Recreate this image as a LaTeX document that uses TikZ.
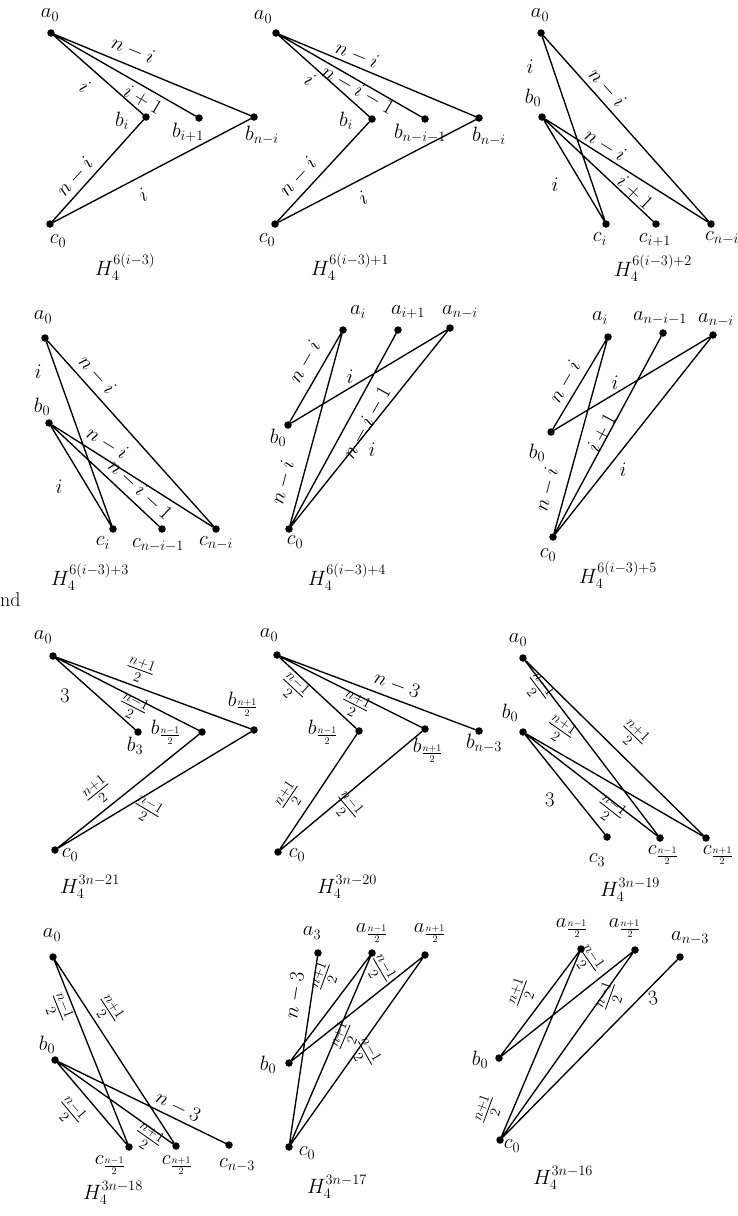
\documentclass[tikz,border=0pt]{standalone}
\usepackage{amsmath}
\begin{document}
\begin{tikzpicture}[x=1pt,y=-1pt,
 vtx/.style={circle,fill=black,inner sep=0pt,minimum size=7.5pt},
 lbl/.style={inner sep=0pt,font=\fontsize{20}{22}\selectfont},
 elb/.style={inner sep=0pt,font=\fontsize{20}{22}\selectfont},
 ttl/.style={inner sep=0pt,font=\fontsize{20}{22}\selectfont},
 con/.style={line width=1.35pt,line cap=round}]
\useasboundingbox (0,0) rectangle (737,1216);
% ---------- Panel 1
\node[vtx] (p1a) at (51,33) {};
\node[vtx] (p1bi) at (146,117) {};
\node[vtx] (p1bj) at (199,118) {};
\node[vtx] (p1bk) at (254,117) {};
\node[vtx] (p1c) at (50,224) {};
\draw[con] (p1a)--(p1bi) (p1a)--(p1bj) (p1a)--(p1bk) (p1c)--(p1bi) (p1c)--(p1bk);
\node[lbl] (p1la) at (50,15) {$a_0$};
\node[lbl] (p1lbi) at (122,121) {$b_i$};
\node[lbl] (p1lbj) at (188,132) {$b_{i+1}$};
\node[lbl] (p1lbk) at (262,135) {$b_{n-i}$};
\node[lbl] (p1lc) at (58,241) {$c_0$};
\node[elb,rotate=-22] (p1e1) at (133,50) {$n-i$};
\node[elb,rotate=-42] (p1e2) at (85,87) {$i$};
\node[elb,rotate=-30] (p1e3) at (143,100) {$i+1$};
\node[elb,rotate=48] (p1e4) at (75,177) {$n-i$};
\node[elb,rotate=28] (p1e5) at (143,195) {$i$};
\node[ttl] (p1t) at (125,267) {$H_4^{6(i-3)}$};
% ---------- Panel 2
\node[vtx] (p2a) at (276,33) {};
\node[vtx] (p2bi) at (372,119) {};
\node[vtx] (p2bj) at (425,119) {};
\node[vtx] (p2bk) at (479,118) {};
\node[vtx] (p2c) at (275,224) {};
\draw[con] (p2a)--(p2bi) (p2a)--(p2bj) (p2a)--(p2bk) (p2c)--(p2bi) (p2c)--(p2bk);
\node[lbl] (p2la) at (263,17) {$a_0$};
\node[lbl] (p2lbi) at (346,121) {$b_i$};
\node[lbl] (p2lbj) at (420,133) {$b_{n-i-1}$};
\node[lbl] (p2lbk) at (489,136) {$b_{n-i}$};
\node[lbl] (p2lc) at (267,240) {$c_0$};
\node[elb,rotate=-22] (p2e1) at (357,55) {$n-i$};
\node[elb,rotate=-42] (p2e2) at (310,80) {$i$};
\node[elb,rotate=-30] (p2e3) at (358,90) {$n-i-1$};
\node[elb,rotate=47] (p2e4) at (298,177) {$n-i$};
\node[elb,rotate=28] (p2e5) at (363,198) {$i$};
\node[ttl] (p2t) at (350,267) {$H_4^{6(i-3)+1}$};
% ---------- Panel 3
\node[vtx] (p3a) at (541,33) {};
\node[vtx] (p3b) at (542,117) {};
\node[vtx] (p3ci) at (606,224) {};
\node[vtx] (p3cj) at (656,224) {};
\node[vtx] (p3ck) at (711,224) {};
\draw[con] (p3a)--(p3ci) (p3a)--(p3ck) (p3b)--(p3ci) (p3b)--(p3cj) (p3b)--(p3ck);
\node[lbl] (p3la) at (540,15) {$a_0$};
\node[lbl] (p3lb) at (533,98) {$b_0$};
\node[lbl] (p3lci) at (600,239) {$c_i$};
\node[lbl] (p3lcj) at (655,240) {$c_{i+1}$};
\node[lbl] (p3lck) at (722,238) {$c_{n-i}$};
\node[elb] (p3e1) at (530,67) {$i$};
\node[elb,rotate=-48] (p3e2) at (607,88) {$n-i$};
\node[elb,rotate=-32] (p3e3) at (605,145) {$n-i$};
\node[elb,rotate=-43] (p3e4) at (635,193) {$i+1$};
\node[elb] (p3e5) at (555,185) {$i$};
\node[ttl] (p3t) at (653,268) {$H_4^{6(i-3)+2}$};
% ---------- Panel 4
\node[vtx] (p4a) at (45,338) {};
\node[vtx] (p4b) at (49,423) {};
\node[vtx] (p4ci) at (113,529) {};
\node[vtx] (p4cj) at (162,529) {};
\node[vtx] (p4ck) at (216,529) {};
\draw[con] (p4a)--(p4ci) (p4a)--(p4ck) (p4b)--(p4ci) (p4b)--(p4cj) (p4b)--(p4ck);
\node[lbl] (p4la) at (43,317) {$a_0$};
\node[lbl] (p4lb) at (42,407) {$b_0$};
\node[lbl] (p4lci) at (103,543) {$c_i$};
\node[lbl] (p4lcj) at (158,545) {$c_{n-i-1}$};
\node[lbl] (p4lck) at (216,543) {$c_{n-i}$};
\node[elb] (p4e1) at (38,372) {$i$};
\node[elb,rotate=-48] (p4e2) at (97,375) {$n-i$};
\node[elb,rotate=-32] (p4e3) at (107,443) {$n-i$};
\node[elb,rotate=-43] (p4e4) at (140,490) {$n-i-1$};
\node[elb] (p4e5) at (59,487) {$i$};
\node[ttl] (p4t) at (90,577) {$H_4^{6(i-3)+3}$};
% ---------- Panel 5
\node[vtx] (p5ai) at (343,330) {};
\node[vtx] (p5aj) at (398,330) {};
\node[vtx] (p5ak) at (450,328) {};
\node[vtx] (p5b) at (288,425) {};
\node[vtx] (p5c) at (289,529) {};
\draw[con] (p5b)--(p5ai) (p5b)--(p5ak) (p5c)--(p5ai) (p5c)--(p5aj) (p5c)--(p5ak);
\node[lbl] (p5lai) at (358,312) {$a_i$};
\node[lbl] (p5laj) at (408,312) {$a_{i+1}$};
\node[lbl] (p5lak) at (460,312) {$a_{n-i}$};
\node[lbl] (p5lb) at (278,438) {$b_0$};
\node[lbl] (p5lc) at (295,542) {$c_0$};
\node[elb,rotate=60] (p5e1) at (305,362) {$n-i$};
\node[elb] (p5e2) at (350,377) {$i$};
\node[elb,rotate=61] (p5e3) at (367,423) {$n-i-1$};
\node[elb] (p5e4) at (372,450) {$i$};
\node[elb,rotate=75] (p5e5) at (283,483) {$n-i$};
\node[ttl] (p5t) at (347,577) {$H_4^{6(i-3)+4}$};
% ---------- Panel 6
\node[vtx] (p6ai) at (608,337) {};
\node[vtx] (p6aj) at (663,333) {};
\node[vtx] (p6ak) at (713,335) {};
\node[vtx] (p6b) at (551,432) {};
\node[vtx] (p6c) at (553,537) {};
\draw[con] (p6b)--(p6ai) (p6b)--(p6ak) (p6c)--(p6ai) (p6c)--(p6aj) (p6c)--(p6ak);
\node[lbl] (p6lai) at (600,318) {$a_i$};
\node[lbl] (p6laj) at (660,318) {$a_{n-i-1}$};
\node[lbl] (p6lak) at (716,320) {$a_{n-i}$};
\node[lbl] (p6lb) at (537,453) {$b_0$};
\node[lbl] (p6lc) at (548,555) {$c_0$};
\node[elb,rotate=60] (p6e1) at (565,382) {$n-i$};
\node[elb] (p6e2) at (615,383) {$i$};
\node[elb,rotate=62] (p6e3) at (602,433) {$i+1$};
\node[elb] (p6e4) at (623,470) {$i$};
\node[elb,rotate=75] (p6e5) at (547,490) {$n-i$};
\node[ttl] (p6t) at (618,575) {$H_4^{6(i-3)+5}$};
% stray text
\node[lbl,anchor=west] (nd) at (0,600) {nd};
% ---------- Panel 7
\node[vtx] (p7a) at (53,656) {};
\node[vtx] (p7b3) at (138,732) {};
\node[vtx] (p7bm) at (202,732) {};
\node[vtx] (p7bp) at (254,730) {};
\node[vtx] (p7c) at (55,850) {};
\draw[con] (p7a)--(p7b3) (p7a)--(p7bm) (p7a)--(p7bp) (p7c)--(p7bm) (p7c)--(p7bp);
\node[lbl] (p7la) at (43,637) {$a_0$};
\node[lbl] (p7lb3) at (135,746) {$b_3$};
\node[lbl] (p7lbm) at (166,732) {$b_{\frac{n-1}{2}}$};
\node[lbl] (p7lbp) at (243,704) {$b_{\frac{n+1}{2}}$};
\node[lbl] (p7lc) at (70,855) {$c_0$};
\node[elb] (p7e1) at (65,696) {$3$};
\node[elb,rotate=-20] (p7e2) at (140,670) {$\frac{n+1}{2}$};
\node[elb,rotate=-27] (p7e3) at (133,707) {$\frac{n-1}{2}$};
\node[elb,rotate=39] (p7e4) at (98,792) {$\frac{n+1}{2}$};
\node[elb,rotate=-31] (p7e5) at (147,810) {$\frac{n-1}{2}$};
\node[ttl] (p7t) at (90,887) {$H_4^{3n-21}$};
% ---------- Panel 8
\node[vtx] (p8a) at (277,655) {};
\node[vtx] (p8bm) at (359,731) {};
\node[vtx] (p8bp) at (425,729) {};
\node[vtx] (p8bk) at (479,731) {};
\node[vtx] (p8c) at (278,852) {};
\draw[con] (p8a)--(p8bm) (p8a)--(p8bp) (p8a)--(p8bk) (p8c)--(p8bm) (p8c)--(p8bp);
\node[lbl] (p8la) at (269,635) {$a_0$};
\node[lbl] (p8lbm) at (323,732) {$b_{\frac{n-1}{2}}$};
\node[lbl] (p8lbp) at (428,750) {$b_{\frac{n+1}{2}}$};
\node[lbl] (p8lbk) at (484,743) {$b_{n-3}$};
\node[lbl] (p8lc) at (297,855) {$c_0$};
\node[elb,rotate=-20] (p8e1) at (397,685) {$n-3$};
\node[elb,rotate=-43] (p8e2) at (293,688) {$\frac{n-1}{2}$};
\node[elb,rotate=-27] (p8e3) at (355,705) {$\frac{n+1}{2}$};
\node[elb,rotate=56] (p8e4) at (290,797) {$\frac{n+1}{2}$};
\node[elb,rotate=-50] (p8e5) at (347,807) {$\frac{n-1}{2}$};
\node[ttl] (p8t) at (347,887) {$H_4^{3n-20}$};
% ---------- Panel 9
\node[vtx] (p9a) at (523,658) {};
\node[vtx] (p9b) at (523,732) {};
\node[vtx] (p9c3) at (607,837) {};
\node[vtx] (p9cm) at (660,838) {};
\node[vtx] (p9cp) at (706,838) {};
\draw[con] (p9a)--(p9cm) (p9a)--(p9cp) (p9b)--(p9c3) (p9b)--(p9cm) (p9b)--(p9cp);
\node[lbl] (p9la) at (518,640) {$a_0$};
\node[lbl] (p9lb) at (510,713) {$b_0$};
\node[lbl] (p9lc3) at (597,860) {$c_3$};
\node[lbl] (p9lcm) at (663,855) {$c_{\frac{n-1}{2}}$};
\node[lbl] (p9lcp) at (718,855) {$c_{\frac{n+1}{2}}$};
\node[elb,rotate=-53] (p9e1) at (538,688) {$\frac{n-1}{2}$};
\node[elb,rotate=-35] (p9e2) at (560,730) {$\frac{n+1}{2}$};
\node[elb,rotate=-44] (p9e3) at (633,735) {$\frac{n+1}{2}$};
\node[elb] (p9e4) at (550,800) {$3$};
\node[elb,rotate=-38] (p9e5) at (610,810) {$\frac{n-1}{2}$};
\node[ttl] (p9t) at (630,890) {$H_4^{3n-19}$};
% ---------- Panel 10
\node[vtx] (p10a) at (53,957) {};
\node[vtx] (p10b) at (55,1060) {};
\node[vtx] (p10cm) at (129,1147) {};
\node[vtx] (p10cp) at (176,1146) {};
\node[vtx] (p10ck) at (229,1145) {};
\draw[con] (p10a)--(p10cm) (p10a)--(p10cp) (p10b)--(p10cm) (p10b)--(p10cp) (p10b)--(p10ck);
\node[lbl] (p10la) at (52,935) {$a_0$};
\node[lbl] (p10lb) at (47,1045) {$b_0$};
\node[lbl] (p10lcm) at (110,1165) {$c_{\frac{n-1}{2}}$};
\node[lbl] (p10lcp) at (177,1165) {$c_{\frac{n+1}{2}}$};
\node[lbl] (p10lck) at (237,1165) {$c_{n-3}$};
\node[elb,rotate=-68] (p10e1) at (58,1008) {$\frac{n-1}{2}$};
\node[elb,rotate=-57] (p10e2) at (108,1010) {$\frac{n+1}{2}$};
\node[elb,rotate=-26] (p10e3) at (178,1107) {$n-3$};
\node[elb,rotate=-50] (p10e4) at (70,1112) {$\frac{n-1}{2}$};
\node[elb,rotate=-35] (p10e5) at (148,1138) {$\frac{n+1}{2}$};
\node[ttl] (p10t) at (113,1193) {$H_4^{3n-18}$};
% ---------- Panel 11
\node[vtx] (p11a3) at (318,953) {};
\node[vtx] (p11am) at (372,953) {};
\node[vtx] (p11ap) at (425,955) {};
\node[vtx] (p11b) at (289,1063) {};
\node[vtx] (p11c) at (289,1147) {};
\draw[con] (p11b)--(p11am) (p11b)--(p11ap) (p11c)--(p11a3) (p11c)--(p11am) (p11c)--(p11ap);
\node[lbl] (p11la3) at (312,933) {$a_3$};
\node[lbl] (p11lam) at (372,933) {$a_{\frac{n-1}{2}}$};
\node[lbl] (p11lap) at (430,933) {$a_{\frac{n+1}{2}}$};
\node[lbl] (p11lb) at (268,1065) {$b_0$};
\node[lbl] (p11lc) at (307,1153) {$c_0$};
\node[elb,rotate=81] (p11e1) at (295,995) {$n-3$};
\node[elb,rotate=70] (p11e2) at (325,977) {$\frac{n+1}{2}$};
\node[elb,rotate=-60] (p11e3) at (380,970) {$\frac{n-1}{2}$};
\node[elb,rotate=67] (p11e4) at (345,1037) {$\frac{n+1}{2}$};
\node[elb,rotate=-60] (p11e5) at (365,1053) {$\frac{n-1}{2}$};
\node[ttl] (p11t) at (337,1187) {$H_4^{3n-17}$};
% ---------- Panel 12
\node[vtx] (p12am) at (581,949) {};
\node[vtx] (p12ap) at (635,950) {};
\node[vtx] (p12ak) at (680,957) {};
\node[vtx] (p12b) at (499,1058) {};
\node[vtx] (p12c) at (500,1140) {};
\draw[con] (p12b)--(p12am) (p12b)--(p12ap) (p12c)--(p12am) (p12c)--(p12ap) (p12c)--(p12ak);
\node[lbl] (p12lam) at (572,928) {$a_{\frac{n-1}{2}}$};
\node[lbl] (p12lap) at (625,928) {$a_{\frac{n+1}{2}}$};
\node[lbl] (p12lak) at (690,938) {$a_{n-3}$};
\node[lbl] (p12lb) at (480,1060) {$b_0$};
\node[lbl] (p12lc) at (512,1146) {$c_0$};
\node[elb,rotate=70] (p12e1) at (522,993) {$\frac{n+1}{2}$};
\node[elb,rotate=-55] (p12e2) at (588,960) {$\frac{n-1}{2}$};
\node[elb,rotate=70] (p12e3) at (610,997) {$\frac{n-1}{2}$};
\node[elb,rotate=10] (p12e4) at (653,998) {$3$};
\node[elb,rotate=70] (p12e5) at (488,1110) {$\frac{n+1}{2}$};
\node[ttl] (p12t) at (563,1178) {$H_4^{3n-16}$};
\end{tikzpicture}
\end{document}
